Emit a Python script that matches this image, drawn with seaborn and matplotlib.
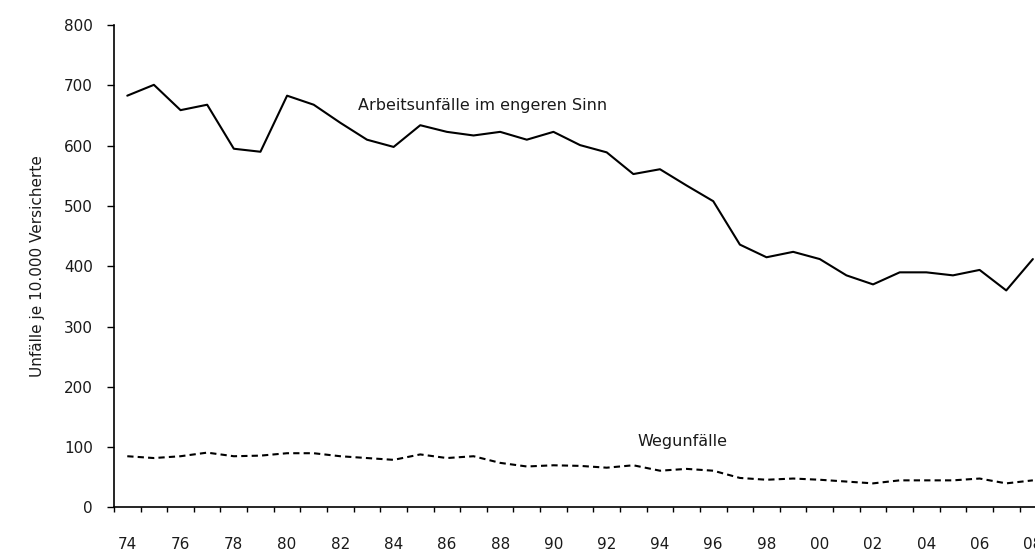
import numpy as np
import pandas as pd
import matplotlib
matplotlib.use("Agg")
import matplotlib.pyplot as plt
import seaborn as sns

# values
years = list(range(1974, 2009))
arbeitsunfaelle = [683, 701, 659, 668, 595, 590, 683, 668, 638, 610,
                   598, 634, 623, 617, 623, 610, 623, 601, 589, 553,
                   561, 534, 508, 436, 415, 424, 412, 385, 370, 390,
                   390, 385, 394, 360, 412]
wegunfaelle = [85, 82, 85, 91, 85, 86, 90, 90, 85, 82,
               79, 88, 82, 85, 74, 68, 70, 69, 66, 70,
               61, 64, 61, 49, 46, 48, 46, 43, 40, 45,
               45, 45, 48, 40, 45]
tick_labels = [f"{y % 100:02d}" for y in years[::2]]

df = pd.DataFrame({"Jahr": years, "Arbeit": arbeitsunfaelle, "Weg": wegunfaelle})

sns.set_style("white")
plt.rcParams['font.family'] = ['DejaVu Sans']
text_color = "#1a1a1a"

fig = plt.figure(figsize=(10.35, 5.5), dpi=100)
ax = fig.add_axes([0.1101, 0.0773, 0.8899, 0.877])

sns.lineplot(data=df, x="Jahr", y="Arbeit", color="black", linewidth=1.5, ax=ax)
sns.lineplot(data=df, x="Jahr", y="Weg", color="black", linewidth=1.5,
             linestyle=(0, (3, 2)), ax=ax)

ax.set_yticks(range(0, 801, 100))
ax.tick_params(axis="y", direction="out", length=5, width=1, left=True,
               labelsize=11, labelcolor=text_color, pad=10, color="black")

# labels every other year, tick marks on the year boundaries
ax.set_xticks(years[::2])
ax.set_xticklabels(tick_labels)
ax.set_xticks(np.arange(1973.5, 2009, 1), minor=True)
ax.tick_params(axis="x", which="major", length=0, pad=21, labelsize=11,
               labelcolor=text_color)
ax.tick_params(axis="x", which="minor", direction="out", length=3.5, width=1,
               bottom=True, color="black")

# limits last, so the tick setters do not widen them
ax.set_xlim(1973.5, 2008.08)
ax.set_ylim(0, 800)

for side in ["top", "right"]:
    ax.spines[side].set_visible(False)
for side in ["left", "bottom"]:
    ax.spines[side].set_color("black")
    ax.spines[side].set_linewidth(1.2)

ax.set_xlabel("")
ax.set_ylabel("Unfälle je 10.000 Versicherte", fontsize=11, color=text_color,
              labelpad=14)

ax.text(1982.65, 667, "Arbeitsunfälle im engeren Sinn", fontsize=11.5,
        color=text_color, va="center", ha="left")
ax.text(1993.15, 110, "Wegunfälle", fontsize=11.5, color=text_color,
        va="center", ha="left")

fig.savefig("out.png", dpi=100)
